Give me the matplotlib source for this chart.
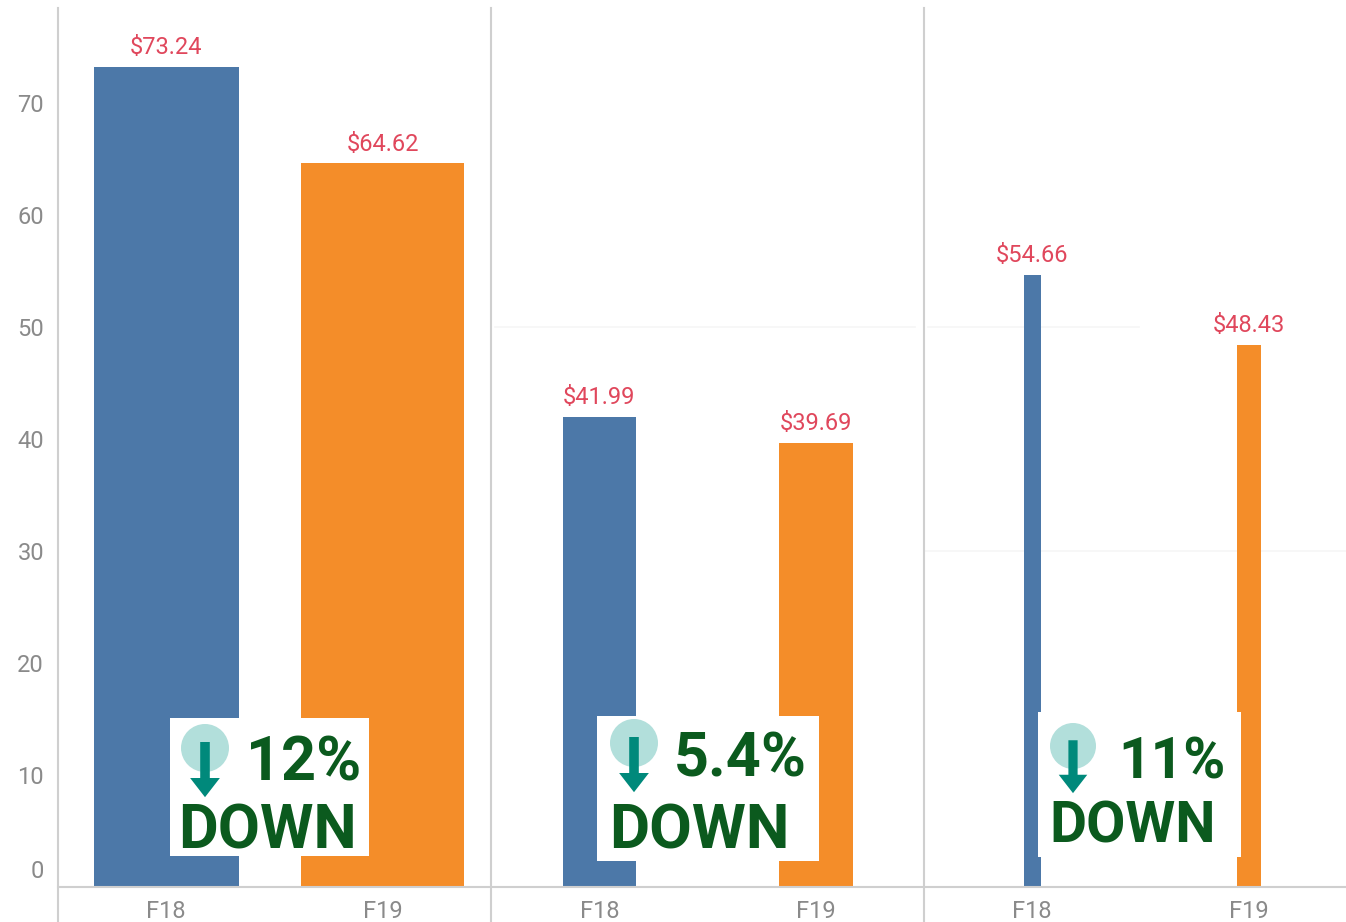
import matplotlib
matplotlib.use("Agg")
import matplotlib.pyplot as plt
from matplotlib.lines import Line2D
from matplotlib.patches import Circle, Polygon, Rectangle

# Values
periods = ["F18", "F19"]
panel_1 = [73.24, 64.62]
panel_2 = [41.99, 39.69]
panel_3 = [54.66, 48.43]
y_ticks = [10, 20, 30, 40, 50, 60, 70]
changes = ["12%", "5.4%", "11%"]

W, H = 1346, 922
BLUE = "#4c78a8"
ORANGE = "#f48d29"
RED = "#e0475c"
GREY = "#8a8a8a"
LINE = "#cfcfcf"
DARK_GREEN = "#0b5a1e"
TEAL = "#00897b"
FONT = "Roboto"
LABEL_SIZE = 17

plt.rcParams["font.family"] = FONT

fig = plt.figure(figsize=(W / 100, H / 100), dpi=100, facecolor="white")


def add_panel(left, right, values, widths, faint=()):
    # y axis goes from the baseline (887 px) to the top of the rules (8 px)
    ax = fig.add_axes([left / W, (H - 887) / H, (right - left) / W, (887 - 8) / H])
    ax.set_xlim(0, (right - left) / 216.5)
    ax.set_ylim(0, 78.5)
    for v, x_from, x_to in faint:
        ax.axhline(v, xmin=x_from, xmax=x_to, color="#f6f6f6", lw=1.2, zorder=0)
    for i, (val, bar_w) in enumerate(zip(values, widths)):
        ax.bar(i + 0.5, val, width=bar_w / 216.5, color=[BLUE, ORANGE][i], zorder=2)
        ax.text(i + 0.5, val + 0.7, "$%.2f" % val, color=RED, fontsize=LABEL_SIZE,
                ha="center", va="bottom")
    ax.set_xticks([0.5, 1.5])
    ax.set_xticklabels(periods, color=GREY, fontsize=LABEL_SIZE)
    ax.tick_params(axis="x", length=0, pad=9.5)
    ax.set_yticks([])
    for s in ax.spines.values():
        s.set_visible(False)
    ax.patch.set_alpha(0)
    return ax


ax1 = add_panel(58, 491, panel_1, [145, 163])
ax2 = add_panel(491, 924, panel_2, [73, 74], faint=[(50, 0.01, 0.98)])
ax3 = add_panel(924, 1346, panel_3, [17, 24], faint=[(30, 0, 1), (50, 0.01, 0.51)])

# Value axis labels, the 0 sits a bit above the baseline
ax1.set_yticks(y_ticks)
ax1.set_yticklabels([str(t) for t in y_ticks], color=GREY, fontsize=LABEL_SIZE)
ax1.tick_params(axis="y", length=0, pad=10)
ax1.annotate("0", xy=(0, 0), xytext=(-10, 11), textcoords="offset points",
             color=GREY, fontsize=LABEL_SIZE, ha="right", va="center")

# Rules that run past the plot area
for x in [58, 491, 924]:
    fig.add_artist(Line2D([x / W, x / W], [0, (H - 8) / H], color=LINE, lw=1.5))
fig.add_artist(Line2D([58 / W, 1], [(H - 887) / H] * 2, color=LINE, lw=1.5))

# Overlay in pixel coordinates for the pasted callouts
over = fig.add_axes([0, 0, 1, 1], zorder=10)
over.set_xlim(0, W)
over.set_ylim(H, 0)
over.axis("off")
over.patch.set_alpha(0)


def callout(box, circle, r, top_xy, down_xy, label, top_size, down_size):
    x0, y0, x1, y1 = box
    over.add_patch(Rectangle((x0, y0), x1 - x0, y1 - y0, color="white", lw=0))
    cx, cy = circle
    over.add_patch(Circle((cx, cy), r, color="#b2dfdb", lw=0))
    s = r * 0.2
    over.add_patch(Polygon([(cx - s, cy - r * 0.25), (cx + s, cy - r * 0.25),
                            (cx + s, cy + r * 1.25), (cx + r * 0.62, cy + r * 1.25),
                            (cx, cy + r * 2.05), (cx - r * 0.62, cy + r * 1.25),
                            (cx - s, cy + r * 1.25)], color=TEAL, lw=0))
    over.text(top_xy[0], top_xy[1], label, color=DARK_GREEN, fontsize=top_size,
              fontweight="bold", ha="left", va="baseline")
    over.text(down_xy[0], down_xy[1], "DOWN", color=DARK_GREEN, fontsize=down_size,
              fontweight="bold", ha="left", va="baseline")


callout((170, 718, 369, 856), (205, 748), 24, (246, 780), (178, 848), changes[0], 44, 44)
callout((597, 716, 819, 861), (634, 743), 24, (674, 776), (609, 848), changes[1], 44, 44.5)
callout((1038, 712, 1241, 857), (1073, 746), 23, (1118, 778), (1049, 842), changes[2], 41, 41)

fig.savefig("out.png", dpi=100, facecolor="white")
